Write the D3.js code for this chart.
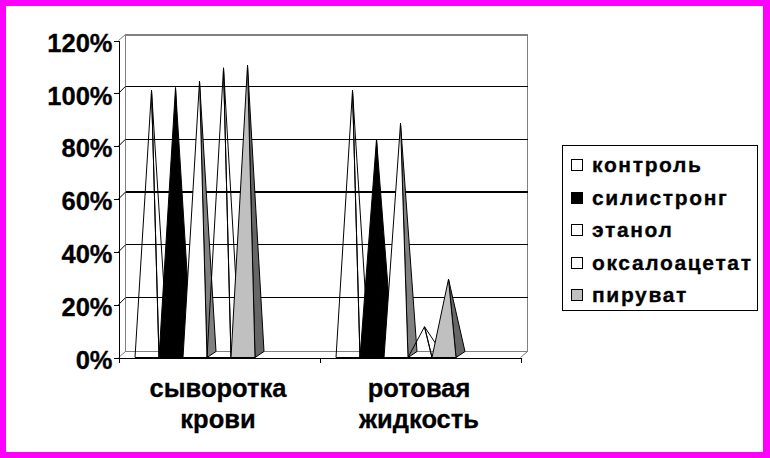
<!DOCTYPE html>
<html><head><meta charset="utf-8">
<script src="https://cdn.jsdelivr.net/npm/d3@7"></script>
<style>html,body{margin:0;padding:0;background:#ff00ff}svg{display:block}text{font-family:"Liberation Sans",Arial,sans-serif;font-weight:bold;fill:#000}</style>
</head><body><svg id="c" width="770" height="458"></svg>
<script>
const categories = [["сыворотка","крови"],["ротовая","жидкость"]];
const seriesNames = ["контроль","силистронг","этанол","оксалоацетат","пируват"];
const control = [1.00,1.00];
const silistrong = [1.01,0.815];
const ethanol = [1.035,0.875];
const oxaloacetate = [1.085,0.105];
const pyruvate = [1.095,0.285];
const seriesValues = [control,silistrong,ethanol,oxaloacetate,pyruvate];
const frontColors = ["none","#000","#fff","none","#c0c0c0"];
const sideColors = ["none","#000","#808080","none","#666"];
const yTicks = [0,0.2,0.4,0.6,0.8,1,1.2];

const svg = d3.select("#c");
svg.append("rect").attr("width",770).attr("height",458).attr("fill","#ff00ff");
svg.append("rect").attr("x",6).attr("y",6).attr("width",757).attr("height",446).attr("fill","#fff");

const L=118.5,R=520.5,B=357.5,T=40.5,dx=7,dy=-6,px=9,py=-6,gridShift=-1;
const y=d3.scaleLinear().domain([0,1.2]).range([B,T]);
const x0=d3.scaleLinear().domain([0,2]).range([L,R]);
const slotW=(x0(1)-x0(0)-33)/7;
const x1=d3.scaleLinear().domain([0,7]).range([16.5,16.5+slotW*7]);

const chart=svg.append("g").attr("shape-rendering","crispEdges");
// walls
chart.append("path").attr("fill","none").attr("stroke","#808080").attr("stroke-width",1)
  .attr("d",d3.line()([[L+dx,B+dy],[L+dx,T+dy],[R+dx,T+dy],[R+dx,B+dy],[L+dx,B+dy]]));
chart.append("path").attr("d",d3.line()([[R+dx,T+dy],[L+dx,T+dy]])).attr("stroke","#808080").attr("stroke-width",2).attr("fill","none");
[[L,T],[L,B],[R,B]].forEach(p=>{
  chart.append("path").attr("fill","none").attr("stroke","#808080")
    .attr("d",d3.line()([p,[p[0]+dx,p[1]+dy]])).attr("shape-rendering","auto");
});
// gridlines
yTicks.slice(1,-1).forEach(v=>{
  const gy=y(v)+dy+gridShift;
  chart.append("line").attr("x1",L+dx).attr("x2",R+dx).attr("y1",gy).attr("y2",gy)
    .attr("stroke","#000").attr("stroke-width",v===0.6?2:1);
  chart.append("line").attr("x1",L).attr("x2",L+dx).attr("y1",y(v)).attr("y2",gy)
    .attr("stroke","#000").attr("shape-rendering","auto");
});
// pyramids
const marks=svg.append("g");
categories.forEach((c,ci)=>{
  seriesValues.forEach((vals,si)=>{
    const a=x0(ci)+x1(si),b=x0(ci)+x1(si+1);
    const apex=[(a+b)/2+px/2,y(vals[ci])+py/2];
    const g=marks.append("g").attr("stroke","#000").attr("stroke-width",1).attr("stroke-linejoin","round");
    g.append("path").attr("fill",sideColors[si])
      .attr("d",d3.line()([[b,B],[b+px,B+py],apex])+"Z");
    g.append("path").attr("fill",frontColors[si])
      .attr("d",d3.line()([[a,B],[b,B],apex])+"Z");
  });
});
// axes
const yAxis=d3.axisLeft(y).tickValues(yTicks).tickSize(5).tickPadding(1).tickFormat(d3.format(".0%"));
const ya=svg.append("g").attr("transform",`translate(${L},0)`).call(yAxis);
ya.selectAll("path,line").attr("stroke","#000").attr("shape-rendering","crispEdges");
ya.selectAll("text").attr("font-size",25.5).style("font-family",'"Liberation Sans",Arial,sans-serif').style("font-weight","bold").attr("dy","0.42em").attr("stroke","#000").attr("stroke-width",0.3);
const xAxis=d3.axisBottom(x0).tickValues([0,1,2]).tickSize(5).tickSizeOuter(0).tickFormat("");
const xa=svg.append("g").attr("transform",`translate(0,${B})`).call(xAxis);
xa.selectAll("path,line").attr("stroke","#000").attr("shape-rendering","crispEdges");
// category labels
categories.forEach((c,ci)=>{
  c.forEach((t,li)=>{
    svg.append("text").attr("x",x0(ci+0.5)-1).attr("y",397+li*31).attr("text-anchor","middle")
      .attr("font-size",25.5).attr("stroke","#000").attr("stroke-width",0.3).text(t);
  });
});
// legend
svg.append("rect").attr("x",562.5).attr("y",145.5).attr("width",195).attr("height",165)
  .attr("fill","#fff").attr("stroke","#000").attr("stroke-width",1).attr("shape-rendering","crispEdges");
const rowY=d3.scalePoint().domain(seriesNames).range([165,295]);
seriesNames.forEach((n,i)=>{
  const yy=rowY(n);
  svg.append("rect").attr("x",571.5).attr("y",yy-5.5).attr("width",11).attr("height",11)
    .attr("fill",frontColors[i]).attr("stroke","#000").attr("shape-rendering","crispEdges");
  svg.append("text").attr("x",592).attr("y",yy+7).attr("font-size",21).attr("letter-spacing",1.65)
    .attr("stroke","#000").attr("stroke-width",0.3).text(n);
});
</script></body></html>
